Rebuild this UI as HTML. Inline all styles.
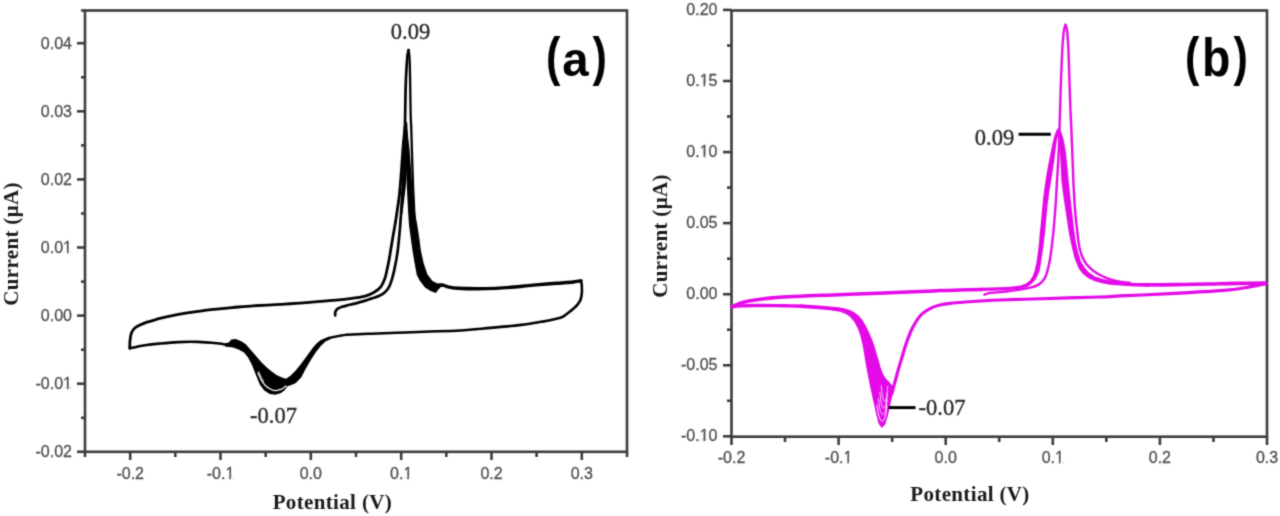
<!DOCTYPE html>
<html><head><meta charset="utf-8"><style>
html,body{margin:0;padding:0;background:#fff;width:1280px;height:516px;overflow:hidden}
svg{display:block}
.wrap{width:1280px;height:516px}
.tk{font-family:"Liberation Sans",sans-serif;font-size:16px;fill:#505050;stroke:#505050;stroke-width:0.3px}
.at{font-family:"Liberation Serif",serif;font-weight:bold;font-size:21px;letter-spacing:0.35px;fill:#1a1a1a}
.an{font-family:"Liberation Serif",serif;font-size:22.5px;fill:#2a2a2a;stroke:#2a2a2a;stroke-width:0.35px}
.pl{font-family:"Liberation Sans",sans-serif;font-weight:bold;font-size:54px;fill:#000}
</style></head><body>
<div class="wrap"><svg width="1280" height="516" viewBox="0 0 1280 516">
<defs><filter id="bl" x="0" y="0" width="1280" height="516" filterUnits="userSpaceOnUse" color-interpolation-filters="sRGB"><feConvolveMatrix order="3" kernelMatrix="0.062 0.249 0.062 0.249 1 0.249 0.062 0.249 0.062" divisor="2.244" edgeMode="duplicate" preserveAlpha="true"/></filter></defs>
<g filter="url(#bl)">
<rect width="1280" height="516" fill="#fff"/>
<line x1="77" y1="451.8" x2="85" y2="451.8" stroke="#3c3c3c" stroke-width="2.6"/>
<text x="72.0" y="457.4" text-anchor="end" class="tk">-0.02</text>
<line x1="77" y1="383.7" x2="85" y2="383.7" stroke="#3c3c3c" stroke-width="2.6"/>
<text x="72.0" y="389.3" text-anchor="end" class="tk">-0.01</text>
<line x1="77" y1="315.6" x2="85" y2="315.6" stroke="#3c3c3c" stroke-width="2.6"/>
<text x="72.0" y="321.2" text-anchor="end" class="tk">0.00</text>
<line x1="77" y1="247.5" x2="85" y2="247.5" stroke="#3c3c3c" stroke-width="2.6"/>
<text x="72.0" y="253.1" text-anchor="end" class="tk">0.01</text>
<line x1="77" y1="179.4" x2="85" y2="179.4" stroke="#3c3c3c" stroke-width="2.6"/>
<text x="72.0" y="185.0" text-anchor="end" class="tk">0.02</text>
<line x1="77" y1="111.3" x2="85" y2="111.3" stroke="#3c3c3c" stroke-width="2.6"/>
<text x="72.0" y="116.9" text-anchor="end" class="tk">0.03</text>
<line x1="77" y1="43.2" x2="85" y2="43.2" stroke="#3c3c3c" stroke-width="2.6"/>
<text x="72.0" y="48.8" text-anchor="end" class="tk">0.04</text>
<line x1="81" y1="417.8" x2="85" y2="417.8" stroke="#3c3c3c" stroke-width="2.6"/>
<line x1="81" y1="349.7" x2="85" y2="349.7" stroke="#3c3c3c" stroke-width="2.6"/>
<line x1="81" y1="281.6" x2="85" y2="281.6" stroke="#3c3c3c" stroke-width="2.6"/>
<line x1="81" y1="213.5" x2="85" y2="213.5" stroke="#3c3c3c" stroke-width="2.6"/>
<line x1="81" y1="145.4" x2="85" y2="145.4" stroke="#3c3c3c" stroke-width="2.6"/>
<line x1="81" y1="77.3" x2="85" y2="77.3" stroke="#3c3c3c" stroke-width="2.6"/>
<line x1="130.2" y1="451.8" x2="130.2" y2="460" stroke="#3c3c3c" stroke-width="2.6"/>
<text x="130.2" y="479.2" text-anchor="middle" class="tk">-0.2</text>
<line x1="220.5" y1="451.8" x2="220.5" y2="460" stroke="#3c3c3c" stroke-width="2.6"/>
<text x="220.5" y="479.2" text-anchor="middle" class="tk">-0.1</text>
<line x1="310.8" y1="451.8" x2="310.8" y2="460" stroke="#3c3c3c" stroke-width="2.6"/>
<text x="310.8" y="479.2" text-anchor="middle" class="tk">0.0</text>
<line x1="401.2" y1="451.8" x2="401.2" y2="460" stroke="#3c3c3c" stroke-width="2.6"/>
<text x="401.2" y="479.2" text-anchor="middle" class="tk">0.1</text>
<line x1="491.5" y1="451.8" x2="491.5" y2="460" stroke="#3c3c3c" stroke-width="2.6"/>
<text x="491.5" y="479.2" text-anchor="middle" class="tk">0.2</text>
<line x1="581.8" y1="451.8" x2="581.8" y2="460" stroke="#3c3c3c" stroke-width="2.6"/>
<text x="581.8" y="479.2" text-anchor="middle" class="tk">0.3</text>
<line x1="85.0" y1="451.8" x2="85.0" y2="457" stroke="#3c3c3c" stroke-width="2.6"/>
<line x1="175.3" y1="451.8" x2="175.3" y2="457" stroke="#3c3c3c" stroke-width="2.6"/>
<line x1="265.7" y1="451.8" x2="265.7" y2="457" stroke="#3c3c3c" stroke-width="2.6"/>
<line x1="356.0" y1="451.8" x2="356.0" y2="457" stroke="#3c3c3c" stroke-width="2.6"/>
<line x1="446.3" y1="451.8" x2="446.3" y2="457" stroke="#3c3c3c" stroke-width="2.6"/>
<line x1="536.6" y1="451.8" x2="536.6" y2="457" stroke="#3c3c3c" stroke-width="2.6"/>
<line x1="627.0" y1="451.8" x2="627.0" y2="457" stroke="#3c3c3c" stroke-width="2.6"/>
<line x1="81" y1="10.5" x2="85" y2="10.5" stroke="#3c3c3c" stroke-width="2.6"/>
<rect x="85.0" y="10.5" width="542.0" height="441.3" fill="none" stroke="#3c3c3c" stroke-width="2.6"/>
<text x="332.4" y="509" text-anchor="middle" class="at">Potential (V)</text>
<text transform="translate(18,244) rotate(-90)" text-anchor="middle" class="at">Current (&#956;A)</text>
<g class="pl"><text transform="translate(553.1,74.5) scale(0.8,1)" text-anchor="middle">(</text><text transform="translate(575.4,75.6) scale(0.88,0.9)" text-anchor="middle">a</text><text transform="translate(599.8,74.5) scale(0.8,1)" text-anchor="middle">)</text></g>
<text x="410.5" y="38.5" text-anchor="middle" class="an">0.09</text>
<text x="273.5" y="422.5" text-anchor="middle" class="an">-0.07</text>
<line x1="723" y1="436.3" x2="731.5" y2="436.3" stroke="#3c3c3c" stroke-width="2.6"/>
<text x="717.5" y="441.3" text-anchor="end" class="tk">-0.10</text>
<line x1="723" y1="365.3" x2="731.5" y2="365.3" stroke="#3c3c3c" stroke-width="2.6"/>
<text x="717.5" y="370.3" text-anchor="end" class="tk">-0.05</text>
<line x1="723" y1="294.2" x2="731.5" y2="294.2" stroke="#3c3c3c" stroke-width="2.6"/>
<text x="717.5" y="299.2" text-anchor="end" class="tk">0.00</text>
<line x1="723" y1="223.1" x2="731.5" y2="223.1" stroke="#3c3c3c" stroke-width="2.6"/>
<text x="717.5" y="228.1" text-anchor="end" class="tk">0.05</text>
<line x1="723" y1="152.1" x2="731.5" y2="152.1" stroke="#3c3c3c" stroke-width="2.6"/>
<text x="717.5" y="157.1" text-anchor="end" class="tk">0.10</text>
<line x1="723" y1="81.0" x2="731.5" y2="81.0" stroke="#3c3c3c" stroke-width="2.6"/>
<text x="717.5" y="86.0" text-anchor="end" class="tk">0.15</text>
<line x1="723" y1="9.9" x2="731.5" y2="9.9" stroke="#3c3c3c" stroke-width="2.6"/>
<text x="717.5" y="14.9" text-anchor="end" class="tk">0.20</text>
<line x1="727" y1="400.8" x2="731.5" y2="400.8" stroke="#3c3c3c" stroke-width="2.6"/>
<line x1="727" y1="329.7" x2="731.5" y2="329.7" stroke="#3c3c3c" stroke-width="2.6"/>
<line x1="727" y1="258.7" x2="731.5" y2="258.7" stroke="#3c3c3c" stroke-width="2.6"/>
<line x1="727" y1="187.6" x2="731.5" y2="187.6" stroke="#3c3c3c" stroke-width="2.6"/>
<line x1="727" y1="116.5" x2="731.5" y2="116.5" stroke="#3c3c3c" stroke-width="2.6"/>
<line x1="727" y1="45.5" x2="731.5" y2="45.5" stroke="#3c3c3c" stroke-width="2.6"/>
<line x1="731.5" y1="436.7" x2="731.5" y2="445" stroke="#3c3c3c" stroke-width="2.6"/>
<text x="731.5" y="463.0" text-anchor="middle" class="tk">-0.2</text>
<line x1="838.6" y1="436.7" x2="838.6" y2="445" stroke="#3c3c3c" stroke-width="2.6"/>
<text x="838.6" y="463.0" text-anchor="middle" class="tk">-0.1</text>
<line x1="945.7" y1="436.7" x2="945.7" y2="445" stroke="#3c3c3c" stroke-width="2.6"/>
<text x="945.7" y="463.0" text-anchor="middle" class="tk">0.0</text>
<line x1="1052.8" y1="436.7" x2="1052.8" y2="445" stroke="#3c3c3c" stroke-width="2.6"/>
<text x="1052.8" y="463.0" text-anchor="middle" class="tk">0.1</text>
<line x1="1159.9" y1="436.7" x2="1159.9" y2="445" stroke="#3c3c3c" stroke-width="2.6"/>
<text x="1159.9" y="463.0" text-anchor="middle" class="tk">0.2</text>
<line x1="1267.0" y1="436.7" x2="1267.0" y2="445" stroke="#3c3c3c" stroke-width="2.6"/>
<text x="1267.0" y="463.0" text-anchor="middle" class="tk">0.3</text>
<line x1="785.0" y1="436.7" x2="785.0" y2="442" stroke="#3c3c3c" stroke-width="2.6"/>
<line x1="892.2" y1="436.7" x2="892.2" y2="442" stroke="#3c3c3c" stroke-width="2.6"/>
<line x1="999.2" y1="436.7" x2="999.2" y2="442" stroke="#3c3c3c" stroke-width="2.6"/>
<line x1="1106.3" y1="436.7" x2="1106.3" y2="442" stroke="#3c3c3c" stroke-width="2.6"/>
<line x1="1213.5" y1="436.7" x2="1213.5" y2="442" stroke="#3c3c3c" stroke-width="2.6"/>
<rect x="731.5" y="10.5" width="535.5" height="426.2" fill="none" stroke="#3c3c3c" stroke-width="2.6"/>
<text x="970" y="501.2" text-anchor="middle" class="at">Potential (V)</text>
<text transform="translate(666.5,236) rotate(-90)" text-anchor="middle" class="at">Current (&#956;A)</text>
<g class="pl"><text transform="translate(1192.3,74.5) scale(0.8,1)" text-anchor="middle">(</text><text transform="translate(1216.2,75.8) scale(0.86,0.99)" text-anchor="middle">b</text><text transform="translate(1240.7,74.5) scale(0.8,1)" text-anchor="middle">)</text></g>
<text x="994.5" y="144.5" text-anchor="middle" class="an">0.09</text>
<text x="942" y="415" text-anchor="middle" class="an">-0.07</text>
<rect x="63.80" y="387.30" width="3.15" height="2.70" fill="#fff"/>
<rect x="68.55" y="387.30" width="3.05" height="2.70" fill="#fff"/>
<rect x="63.80" y="251.10" width="3.15" height="2.70" fill="#fff"/>
<rect x="68.55" y="251.10" width="3.05" height="2.70" fill="#fff"/>
<rect x="226.08" y="477.20" width="3.15" height="2.70" fill="#fff"/>
<rect x="230.83" y="477.20" width="3.05" height="2.70" fill="#fff"/>
<rect x="404.08" y="477.20" width="3.15" height="2.70" fill="#fff"/>
<rect x="408.83" y="477.20" width="3.05" height="2.70" fill="#fff"/>
<rect x="700.41" y="439.33" width="3.15" height="2.70" fill="#fff"/>
<rect x="705.16" y="439.33" width="3.05" height="2.70" fill="#fff"/>
<rect x="700.41" y="155.07" width="3.15" height="2.70" fill="#fff"/>
<rect x="705.16" y="155.07" width="3.05" height="2.70" fill="#fff"/>
<rect x="700.41" y="84.00" width="3.15" height="2.70" fill="#fff"/>
<rect x="705.16" y="84.00" width="3.05" height="2.70" fill="#fff"/>
<rect x="844.19" y="461.00" width="3.15" height="2.70" fill="#fff"/>
<rect x="848.94" y="461.00" width="3.05" height="2.70" fill="#fff"/>
<rect x="1055.72" y="461.00" width="3.15" height="2.70" fill="#fff"/>
<rect x="1060.47" y="461.00" width="3.05" height="2.70" fill="#fff"/>
<path d="M129.8 348.3 C129.8 347.2 129.8 344 129.9 342 C130 340 130.3 338.1 130.6 336.5 C130.9 334.9 131 333.7 131.7 332.3 C132.4 330.9 133.4 329.4 134.6 328.3 C135.8 327.2 136.9 326.6 138.9 325.6 C140.9 324.6 143.3 323.5 146.3 322.4 C149.3 321.3 153.4 320.2 157 319.2 C160.6 318.2 164 317.4 167.6 316.6 C171.2 315.8 174.7 315.1 178.3 314.4 C181.9 313.7 185.4 313.2 189 312.6 C192.6 312.1 196.3 311.6 200 311.1 C203.7 310.6 205.7 310.3 211.1 309.7 C216.5 309.1 225.2 308.2 232.2 307.6 C239.2 307 245.3 306.3 253.3 305.8 C261.3 305.3 271.7 304.9 280 304.4 C288.3 303.9 295.6 303.5 303.3 302.9 C311.1 302.3 318.8 301.6 326.5 300.9 C334.2 300.2 343.3 299.4 349.8 298.6 C356.3 297.8 361.2 297.2 365.3 296.1 C369.4 295 371.9 293.5 374.5 292 C377.1 290.5 379.1 289 380.8 286.9 C382.5 284.8 383.6 282 384.7 279.1 C385.8 276.2 386.4 272.6 387.1 269.4 C387.8 266.2 388.5 262.9 389.1 259.7 C389.7 256.5 390.1 253.7 390.7 250 C391.3 246.3 392.1 241.7 392.8 237.5 C393.5 233.3 394.2 229.6 395 225 C395.8 220.4 396.6 215 397.3 210 C398 205 398.7 201.3 399.4 195 C400.1 188.7 400.7 179.8 401.3 172 C401.9 164.2 402.5 154.7 403 148 C403.5 141.3 404.1 136.2 404.5 132 C404.9 127.8 405.4 124.5 405.6 123" fill="none" stroke="#000" stroke-width="2.8" stroke-linejoin="round" stroke-linecap="round"/>
<path d="M335.2 315.5 C335.2 314.9 335 312.9 335.4 311.8 C335.8 310.7 336.3 309.7 337.4 308.9 C338.5 308.1 339.9 307.5 342 306.8 C344.1 306.1 347.2 305.5 349.8 304.8 C352.4 304.1 354.9 303.6 357.5 302.9 C360.1 302.2 362.9 301.4 365.3 300.6 C367.7 299.9 369.6 299.2 372 298.4 C374.4 297.6 377.2 296.9 379.4 295.8 C381.6 294.7 383.6 293.4 385.2 291.9 C386.8 290.4 388 288.9 389.1 286.8 C390.2 284.7 391.1 282 392 279.1 C392.9 276.2 393.7 272.6 394.4 269.4 C395.1 266.2 395.7 262.9 396.3 259.7 C396.9 256.5 397.3 253.7 397.8 250 C398.3 246.3 398.7 241.7 399.1 237.5 C399.5 233.3 399.8 230.4 400.2 225 C400.6 219.6 401.2 211.7 401.6 205 C402.1 198.3 402.5 192 402.9 185 C403.3 178 403.7 170.5 404 163 C404.3 155.5 404.5 147.4 404.7 140 C404.9 132.6 405 126 405.1 118.5 C405.2 111 405.4 101.8 405.5 95 C405.6 88.2 405.8 83.2 406 78 C406.2 72.8 406.5 67.8 406.8 64 C407.1 60.2 407.3 57.3 407.6 55 C407.9 52.7 408.4 50.8 408.5 50" fill="none" stroke="#000" stroke-width="2.7" stroke-linejoin="round" stroke-linecap="round"/>
<path d="M401.3 213 C401.9 208.3 403.9 193.3 404.7 185 C405.4 176.7 405.5 170.5 405.8 163 C406.1 155.5 406.4 146.5 406.5 140 C406.6 133.5 406.2 126.7 406.2 124" fill="none" stroke="#000" stroke-width="2.4" stroke-linejoin="round" stroke-linecap="round"/>
<path d="M408.5 50 C408.6 50.8 409.1 52.7 409.3 55 C409.5 57.3 409.7 59.8 409.8 64 C409.9 68.2 410 74 410.1 80 C410.2 86 410.3 93.6 410.4 100 C410.5 106.4 410.6 113.5 410.8 118.5 C411 123.5 411.1 123.1 411.3 130 C411.5 136.9 411.9 150 412.2 160 C412.5 170 412.8 180.3 413.2 190 C413.6 199.7 414.1 209.3 414.6 218 C415.2 226.7 415.8 235.3 416.5 242 C417.2 248.7 417.9 253 419 258 C420.1 263 421.3 267.8 423 272 C424.7 276.2 427 280 429 283 C431 286 434 288.8 435 290" fill="none" stroke="#000" stroke-width="2.3" stroke-linejoin="round" stroke-linecap="round"/>
<polygon points="405.6,122 407.6,132 409.6,150 411.5,175 413.3,200 415.2,214 417.3,225 419.4,239 420.8,250 423.6,263 427.5,274.5 432.5,281 437,283.3 442,283.4 436,293 431,291.2 425,287.5 420,281 416.8,275 414.4,262 412.4,250 410.6,237 409,225 408,210 407,190 406.2,170 405.3,145 404.8,128" fill="#000"/>
<path d="M436 289 C436.5 288.6 438 287.2 439 286.5 C440 285.8 440.7 284.9 442.2 285 C443.7 285.1 445.4 286.2 448 286.8 C450.6 287.4 453.3 288 458.1 288.3 C462.9 288.6 470.6 288.8 476.9 288.8 C483.1 288.8 489.4 288.7 495.6 288.4 C501.9 288.1 508.1 287.6 514.4 287 C520.6 286.4 527.2 285.6 533.1 285.1 C539 284.6 545.2 284.2 550 283.8 C554.8 283.4 557.7 283.3 561.6 283 C565.5 282.7 570.1 282.4 573.3 282 C576.5 281.6 579.7 281.1 581 280.9" fill="none" stroke="#000" stroke-width="3.4" stroke-linejoin="round" stroke-linecap="round"/>
<path d="M581 280.9 C581.1 281.7 581.7 283.4 581.8 285.5 C581.9 287.6 582 291 581.8 293.3 C581.6 295.6 581.2 297.7 580.6 299.5 C580 301.3 579.1 302.6 577.9 304.1 C576.7 305.7 575.1 307.2 573.3 308.8 C571.5 310.4 569 312.4 567 313.8 C565 315.2 564.3 316.3 561.6 317.3 C558.9 318.3 554.4 319.2 551 320 C547.6 320.8 546.2 321 541.2 321.8 C536.2 322.6 529.5 323.9 521 324.9 C512.5 325.9 500.7 327 490.5 327.9 C480.3 328.8 471 329.9 460 330.5 C449 331.1 435 331.3 424.4 331.7 C413.8 332.1 405.6 332.5 396.2 332.8 C386.9 333.1 376.3 333.4 368.1 333.8 C359.9 334.1 350.5 334.6 347 334.8" fill="none" stroke="#000" stroke-width="2.6" stroke-linejoin="round" stroke-linecap="round"/>
<polygon points="225,343.4 229.1,342.2 231.1,339.5 235.8,339 241.3,341.3 245.8,344.2 250.2,349.2 255.8,355.8 261.4,362.3 266.8,367.6 272,371.8 277,375.3 282,377.5 286,378.8 290.1,376.1 295.5,370.7 300.9,363.9 305,358.6 309,353 313,347.6 317,343 320.8,340 328.5,336.8 340,334.6 347,333.6 347,335.8 340,337 332,338.6 325.5,341.6 320.5,346.3 315.3,353 310.5,360.5 305.6,369 301.2,377.4 295.5,383.3 291.4,384.9 287.4,386.3 284.7,390.2 280.6,393.3 275.2,394.7 269.7,394.1 264.3,390.6 260,385 256,375.2 252.1,365.3 248.1,357.6 244,352.6 238.6,349.6 233.1,347.6 225,346.4" fill="#000"/>
<path d="M258 373 C258.6 374.2 260.2 378.3 261.5 380.4 C262.8 382.5 263.9 384.2 265.6 385.8 C267.3 387.4 270 389 271.7 389.8 C273.4 390.6 274.1 390.7 275.6 390.6 C277.2 390.5 279.6 389.9 281 389.4 C282.4 388.9 283.3 388.2 284.1 387.6 C284.9 387 285.5 386.3 285.8 386" fill="none" stroke="#fff" stroke-width="1.2" stroke-linejoin="round" stroke-linecap="round"/>
<path d="M258.6 371.5 C259.1 372.5 260.6 375.8 261.4 377.5 C262.2 379.2 263.2 380.8 263.6 381.5" fill="none" stroke="#fff" stroke-width="0.8" stroke-linejoin="round" stroke-linecap="round"/>
<path d="M229 345.2 C227 344.9 222.2 343.9 217 343.3 C211.8 342.8 204.1 342.1 197.6 341.9 C191.1 341.7 184.7 341.8 178.2 342.1 C171.7 342.4 164.3 343.1 158.8 343.6 C153.3 344.1 149 344.6 145 345.2 C141 345.8 137.6 346.7 135 347.2 C132.4 347.7 130.6 348.1 129.7 348.3" fill="none" stroke="#000" stroke-width="2.6" stroke-linejoin="round" stroke-linecap="round"/>
<path d="M732.3 306.8 C733.9 306.6 738.5 306.1 742 305.9 C745.5 305.7 747.5 305.6 753.3 305.5 C759 305.4 770.4 305.5 776.5 305.6 C782.6 305.7 785.4 305.8 790 305.9 C794.6 306 801.7 306.2 804 306.3" fill="none" stroke="#e40ae8" stroke-width="3.4" stroke-linejoin="round" stroke-linecap="round"/>
<path d="M732.3 306.4 C733.9 305.8 738.5 303.6 742 302.6 C745.5 301.6 747.5 301 753.3 300.2 C759 299.4 768.7 298.2 776.5 297.6 C784.3 297 792.2 296.7 800 296.3 C807.8 295.9 814.7 295.6 823 295.3 C831.3 295 838.8 294.7 850 294.3 C861.2 293.9 878.3 293.2 890 292.7 C901.7 292.2 911.7 291.9 920 291.5 C928.3 291.1 933.3 290.9 940 290.6 C946.7 290.4 953 290.2 960 290 C967 289.8 978.3 289.5 982 289.4" fill="none" stroke="#e40ae8" stroke-width="3.5" stroke-linejoin="round" stroke-linecap="round"/>
<polygon points="980,287.7 1000,287.2 1010,286.8 1020.6,285.6 1026,283.5 1029.8,280.5 1032.5,276.5 1034.6,270.9 1036.4,263 1037.7,253.8 1039,243 1039.8,232.6 1041,222 1041.9,211.3 1043,200 1044.2,190 1046.2,176 1048.2,165 1050.4,154 1052.6,143 1054.6,135 1056.5,130.5 1057.6,128.6 1059.5,130.6 1058.6,134 1057,140 1055.7,148 1054.4,160 1052.2,174 1050.6,184 1049.4,191 1047.6,205 1046.5,216 1045.1,232.6 1043.8,243 1042.3,253.8 1041,263 1039.5,270.9 1037,277 1034,281.5 1030.5,284.8 1027,286.9 1020,288.8 1010,289.8 1000,290.4 980,291.1" fill="#e40ae8"/>
<polygon points="1057.6,128.6 1058.6,135 1059.6,145 1060.4,161.3 1061.3,180 1063.2,195 1066.1,214.4 1069,233.7 1071.6,246 1074.5,258 1078.7,268.6 1083,274 1088.4,278.3 1095,281.2 1102,283.3 1110,284.7 1120,285.6 1135,286.4 1150,286.7 1150,283.1 1135,283 1120,282 1110,280.6 1102,278.8 1095,276.4 1089,272.6 1084.6,267.6 1081,261.5 1078.3,253 1076,243 1074.4,232 1073,220 1071.5,207 1070.2,195 1068.6,180 1067.2,165 1065.6,150 1063.5,139 1061.3,132 1059.2,128.4" fill="#e40ae8"/>
<path d="M1145 284.8 C1147.5 284.8 1153.4 284.9 1160 284.9 C1166.6 284.8 1176.1 284.6 1184.4 284.5 C1192.7 284.4 1203 284.1 1210 284 C1217 283.9 1219.9 283.7 1226.6 283.6 C1233.3 283.5 1243.4 283.3 1250 283.2 C1256.6 283.1 1263.3 283 1266 283" fill="none" stroke="#e40ae8" stroke-width="3.6" stroke-linejoin="round" stroke-linecap="round"/>
<path d="M984.4 294.6 C985 294.4 986.1 293.7 988 293.3 C989.9 292.9 993 292.7 996 292.4 C999 292.1 1002.2 292 1006.2 291.5 C1010.2 291 1015.6 290.3 1020 289.6 C1024.3 288.9 1029.2 287.9 1032.3 287.1 C1035.4 286.3 1036.8 285.6 1038.5 284.6 C1040.2 283.6 1041.5 282.5 1042.8 281 C1044 279.5 1045.1 277.8 1046 275.5 C1046.9 273.2 1047.7 269.9 1048.4 267 C1049.1 264.1 1049.7 261.2 1050.2 258 C1050.7 254.8 1051.1 251.7 1051.6 248 C1052.1 244.3 1052.5 240.3 1053 236 C1053.5 231.7 1053.9 227.2 1054.3 222 C1054.7 216.8 1055.2 211.2 1055.6 205 C1056 198.8 1056.4 191.7 1056.8 185 C1057.2 178.3 1057.6 172.5 1058 165 C1058.4 157.5 1058.9 148.3 1059.2 140 C1059.5 131.7 1059.6 124.2 1059.9 115 C1060.2 105.8 1060.5 94.2 1060.8 85 C1061.1 75.8 1061.5 67.2 1061.8 60 C1062.1 52.8 1062.4 47 1062.8 42 C1063.2 37 1063.5 32.9 1064 30 C1064.5 27.1 1065.2 25.7 1065.5 24.8" fill="none" stroke="#e40ae8" stroke-width="2.4" stroke-linejoin="round" stroke-linecap="round"/>
<path d="M1065.5 24.8 C1065.8 25.7 1066.6 27.1 1067 30 C1067.4 32.9 1067.7 37.8 1068 42 C1068.3 46.2 1068.4 49.5 1068.6 55 C1068.8 60.5 1069 67.5 1069.3 75 C1069.5 82.5 1069.9 93.3 1070.1 100 C1070.3 106.7 1070.5 110 1070.7 115 C1070.9 120 1071.1 122.5 1071.4 130 C1071.7 137.5 1072.2 150 1072.6 160 C1073 170 1073.3 180.9 1073.8 190 C1074.3 199.1 1074.8 207.6 1075.4 214.4 C1076 221.2 1076.6 225.6 1077.2 231 C1077.8 236.4 1078.5 242.8 1079.3 247 C1080.1 251.2 1081 253.4 1082 256 C1083 258.6 1084.2 260.8 1085.5 262.8 C1086.8 264.8 1088.4 266.3 1090 267.8 C1091.6 269.3 1093 270.6 1095 272 C1097 273.4 1099.5 274.8 1102 276 C1104.5 277.2 1107 278.3 1110 279.3 C1113 280.3 1116.7 281.2 1120 281.8 C1123.3 282.4 1128.3 282.8 1130 283" fill="none" stroke="#e40ae8" stroke-width="2.4" stroke-linejoin="round" stroke-linecap="round"/>
<path d="M1266 283.6 C1264.3 283.9 1259 285 1256 285.6 C1253 286.2 1252.6 286.5 1247.7 287.3 C1242.8 288.1 1237.1 289.3 1226.6 290.2 C1216 291.1 1198.5 292.1 1184.4 292.9 C1170.3 293.7 1152.9 294.5 1142.2 295 C1131.5 295.5 1127 295.6 1120 295.9 C1113 296.2 1111.7 296.6 1100 297 C1088.3 297.4 1066.4 298 1049.7 298.5 C1033 299 1011.6 299.6 1000 300 C988.4 300.4 985.8 300.7 980 301 C974.2 301.3 970 301.6 965 302 C960 302.4 954.2 302.9 950 303.4 C945.8 303.9 943 304.3 940 305 C937 305.7 934.3 306.6 932 307.6 C929.7 308.6 927.9 309.7 926 311 C924.1 312.3 922.2 313.6 920.5 315.5 C918.8 317.4 917.1 319.9 915.5 322.5 C913.9 325.1 912.6 327.4 911 331 C909.4 334.6 907.5 339.5 906 344 C904.5 348.5 903.1 353.7 901.8 358 C900.5 362.3 899.2 366.3 898.2 370 C897.2 373.7 896.3 377 895.5 380 C894.7 383 893.9 385.7 893.3 388 C892.7 390.3 892 393 891.8 394" fill="none" stroke="#e40ae8" stroke-width="3.2" stroke-linejoin="round" stroke-linecap="round"/>
<polygon points="800,308.1 812,308.7 822,309.4 830,310.3 840,311.8 846,314 850.5,317.3 854.5,322.3 857.8,328.6 860.6,336.5 863,347.3 865.2,360.5 867.6,374 870.6,389 873.8,403.6 876.4,415.2 878.7,424 881.8,428 885.2,424.6 887.8,416 889.6,408 891.2,400.7 892.6,394 894,387.5 888.6,381.2 885.8,378.5 883.3,374.5 880.6,367.5 878.6,360 876.8,354.3 874.8,347.3 872.4,340.3 869.5,333.4 866.2,326.4 862.8,320.5 859,316 855,312.8 850.5,310.2 845,308.4 838.7,307.2 830,306.4 822,305.7 812,305 800,304.5" fill="#e40ae8"/>
<path d="M877 405 C877.3 406.7 878 412.5 878.6 415 C879.2 417.5 880 418.9 880.6 420 C881.2 421.1 881.7 421.3 882.2 421.3 C882.7 421.3 883.2 421.1 883.8 420 C884.4 418.9 885.1 417.3 885.6 415 C886.1 412.7 886.8 407.5 887 406" fill="none" stroke="#fff" stroke-width="0.9" stroke-linejoin="round" stroke-linecap="round"/>
<path d="M878.4 398.5 C878.7 400.2 879.3 406 879.8 408.5 C880.4 411 881.1 412.4 881.6 413.5 C882.1 414.6 882.5 414.8 883 414.8 C883.5 414.8 883.9 414.6 884.4 413.5 C884.9 412.4 885.5 410.8 886 408.5 C886.5 406.2 887 401 887.2 399.5" fill="none" stroke="#fff" stroke-width="0.75" stroke-linejoin="round" stroke-linecap="round"/>
<path d="M879.8 392 C880.1 393.7 880.6 399.5 881.1 402 C881.5 404.5 882.1 405.9 882.6 407 C883 408.1 883.4 408.3 883.8 408.3 C884.2 408.3 884.6 408.1 885 407 C885.4 405.9 886 404.3 886.4 402 C886.8 399.7 887.3 394.5 887.4 393" fill="none" stroke="#fff" stroke-width="0.75" stroke-linejoin="round" stroke-linecap="round"/>
<path d="M881.3 385.5 C881.4 387.2 881.9 393 882.3 395.5 C882.7 398 883.2 399.4 883.6 400.5 C884 401.6 884.3 401.8 884.6 401.8 C884.9 401.8 885.3 401.6 885.6 400.5 C886 399.4 886.4 397.8 886.8 395.5 C887.1 393.2 887.5 388 887.7 386.5" fill="none" stroke="#fff" stroke-width="0.75" stroke-linejoin="round" stroke-linecap="round"/>
<line x1="1018.6" y1="134.3" x2="1050.8" y2="134.3" stroke="#000" stroke-width="3"/>
<line x1="888.6" y1="407.6" x2="915.5" y2="407.6" stroke="#000" stroke-width="3"/>
</g>
</svg></div>
</body></html>
